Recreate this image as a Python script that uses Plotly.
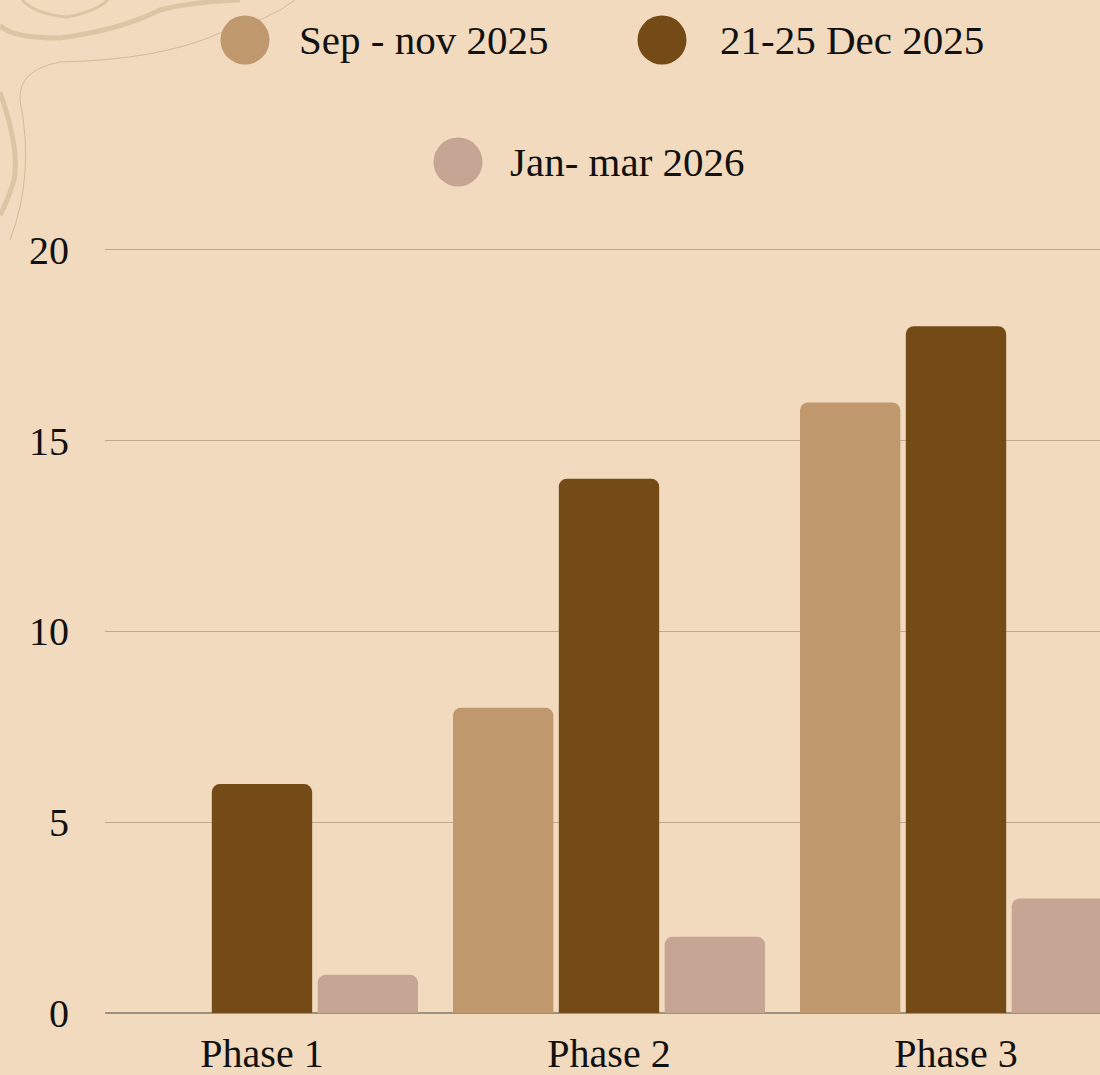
import plotly.graph_objects as go

# ---- data ----
phases = ["Phase 1", "Phase 2", "Phase 3"]
series_names = ["Sep - nov 2025", "21-25 Dec 2025", "Jan- mar 2026"]
sep_nov_2025 = [0, 8, 16]
dec_2025 = [6, 14, 18]
jan_mar_2026 = [1, 2, 3]
series_values = [sep_nov_2025, dec_2025, jan_mar_2026]
series_colors = ["#BF986D", "#744B16", "#C6A594"]
y_ticks = [0, 5, 10, 15, 20]

# ---- layout geometry (pixels) ----
W, H = 1100, 1075
ML, MR, MT, MB = 105, 0, 246, 62
PW = W - ML - MR
PH = H - MT - MB
Y_TOP = 20.1
BG = "#F1DABD"
FONT = "Liberation Serif"


def px2paper(px, py):
    return (px - ML) / PW, (H - MB - py) / PH


fig = go.Figure()
for name, vals, col in zip(series_names, series_values, series_colors):
    fig.add_trace(go.Bar(x=phases, y=vals, name=name, marker=dict(color=col, line=dict(width=0)),
                         showlegend=False))

# custom legend (circles + text)
legend_pos = [(245, 40, 297), (662, 40, 718), (458, 162, 508)]
for (cx, cy, tx), name, col in zip(legend_pos, series_names, series_colors):
    pxp, pyp = px2paper(cx, cy)
    fig.add_shape(type="circle", xref="paper", yref="paper", xsizemode="pixel", ysizemode="pixel",
                  xanchor=pxp, yanchor=pyp, x0=-24.5, x1=24.5, y0=-24.5, y1=24.5,
                  fillcolor=col, line=dict(width=0), layer="above")
    tpx, tpy = px2paper(tx, cy)
    fig.add_annotation(x=tpx, y=tpy, xref="paper", yref="paper", text=name, showarrow=False,
                       xanchor="left", yanchor="middle", font=dict(family=FONT, size=41, color="#111111"))

# decorative swirls in the top-left corner
def path_from(points):
    pts = [px2paper(x, y) for x, y in points]
    d = "M %f,%f" % pts[0]
    for i in range(1, len(pts) - 1, 2):
        d += " Q %f,%f %f,%f" % (pts[i] + pts[i + 1])
    return d

deco = [
    ([(0, 25), (10, 38), (60, 38), (120, 30), (160, 10), (190, 2), (240, 0)], 5, "#DDC4A4"),
    ([(22, 0), (35, 14), (67, 17), (95, 12), (108, 0)], 3, "#DDC4A4"),
    ([(0, 92), (20, 150), (14, 180), (8, 200), (0, 215)], 5, "#DDC4A4"),
    ([(295, 0), (270, 20), (220, 33), (160, 60), (60, 62), (18, 70), (20, 100), (35, 175), (10, 240)], 1, "#D6BA97"),
]
for pts, w, c in deco:
    fig.add_shape(type="path", xref="paper", yref="paper", path=path_from(pts),
                  line=dict(color=c, width=w), layer="below")

cat_w = 347.0
x_lo = -0.5 + (ML - (262 - cat_w / 2)) / cat_w
x_hi = x_lo + PW / cat_w

fig.update_layout(
    width=W, height=H,
    margin=dict(l=ML, r=MR, t=MT, b=MB, pad=0),
    paper_bgcolor=BG, plot_bgcolor=BG,
    barmode="group", bargap=0.085, bargroupgap=0.052, barcornerradius=8,
    font=dict(family=FONT, size=40, color="#111111"),
    xaxis=dict(range=[x_lo, x_hi], showgrid=False, showline=False, zeroline=False,
               tickfont=dict(family=FONT, size=40, color="#111111"), ticks="",
               ticklabelstandoff=13, fixedrange=True),
    yaxis=dict(range=[0, Y_TOP], tickvals=y_ticks, showgrid=True, gridcolor="#BFA88C", gridwidth=1,
               zeroline=True, zerolinecolor="#9C9282", zerolinewidth=1.5, showline=False,
               tickfont=dict(family=FONT, size=40, color="#111111"), ticks="", ticklabelstandoff=35),
)

fig.write_html("out.html", config={"displayModeBar": False},
               post_script="document.body.style.margin='0';document.body.style.overflow='hidden';")
